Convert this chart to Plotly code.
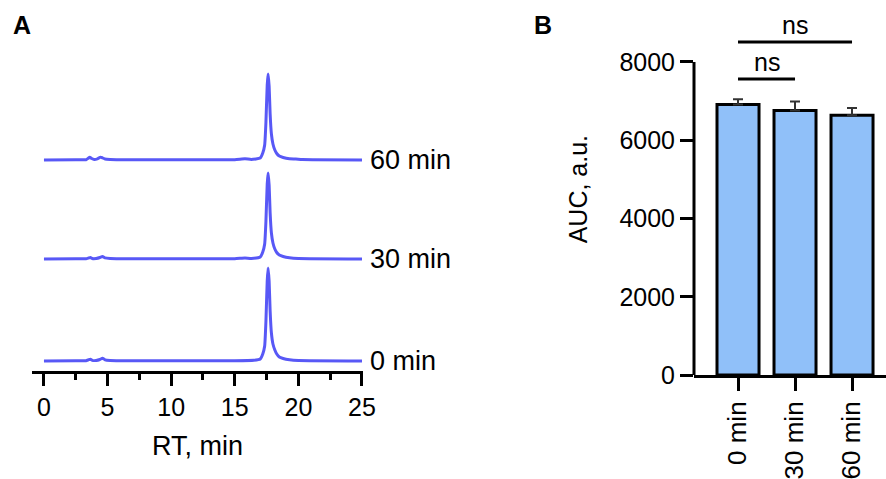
import plotly.graph_objects as go

# ---------------- Panel A data: chromatograms (RT in min, intensity a.u.) ----------------
rt_0min = [0, 2.5, 3.3, 3.5, 3.65, 3.8, 4.1, 4.4, 4.6, 4.8, 5.2, 6, 10, 15, 16.5,
           17.0, 17.2, 17.35, 17.45, 17.55, 17.62, 17.7, 17.78, 17.88, 18.0, 18.15,
           18.3, 18.5, 18.8, 19.3, 20.0, 25]
int_0min = [0, 0.3, 0.3, 1.2, 1.8, 0.6, 0.5, 1.5, 2.8, 1.2, 0.5, 0.3, 0.2, 0.3, 0.8,
            2, 7, 15, 40, 80, 93, 80, 50, 28, 17, 11,
            7, 4, 2.5, 1.2, 0.5, 0]

rt_30min = [0, 2.5, 3.3, 3.5, 3.65, 3.8, 4.1, 4.4, 4.6, 4.8, 5.2, 6, 10, 15, 15.8, 16.3,
            17.0, 17.2, 17.35, 17.45, 17.55, 17.62, 17.7, 17.78, 17.88, 18.0, 18.15,
            18.3, 18.5, 18.8, 19.3, 20.0, 25]
int_30min = [0, 0.3, 0.3, 1.0, 1.6, 0.5, 0.5, 1.5, 2.6, 1.1, 0.5, 0.3, 0.2, 0.3, 1.0, 0.6,
             2, 7, 15, 38, 75, 86, 74, 46, 26, 16, 10,
             6.5, 4, 2.5, 1.2, 0.5, 0]

rt_60min = [0, 2.5, 3.3, 3.45, 3.6, 3.75, 3.95, 4.2, 4.45, 4.6, 4.8, 5.2, 6, 10, 15, 15.8, 16.3,
            17.0, 17.2, 17.35, 17.45, 17.55, 17.62, 17.7, 17.78, 17.88, 18.0, 18.15,
            18.3, 18.5, 18.8, 19.3, 19.8, 20.3, 25]
int_60min = [0, 0.3, 0.3, 1.5, 2.8, 1.5, 0.6, 1.2, 2.8, 2.2, 1.0, 0.5, 0.3, 0.2, 0.3, 1.2, 0.6,
             2, 7, 15, 38, 75, 86, 74, 46, 26, 16, 10,
             6.5, 4, 2.5, 1.2, 1.0, 0.4, 0]

trace_labels = ["0 min", "30 min", "60 min"]
trace_offsets = [10, 112, 211]   # vertical stacking of the chromatograms

rt_ticks = [0, 5, 10, 15, 20, 25]

# ---------------- Panel B data: AUC ----------------
categories = ["0 min", "30 min", "60 min"]
auc_mean = [6915, 6760, 6640]
auc_err = [130, 230, 185]
auc_ticks = [0, 2000, 4000, 6000, 8000]
sig_pairs = [(0, 1, 7565, "ns"), (0, 2, 8511, "ns")]

FONT = "Liberation Sans, Arial, sans-serif"
LINE_BLUE = "#5858F6"
BAR_BLUE = "#90C0F9"

fig = go.Figure()

rts = [rt_0min, rt_30min, rt_60min]
ints = [int_0min, int_30min, int_60min]
for rt, it, off, lab in zip(rts, ints, trace_offsets, trace_labels):
    fig.add_trace(go.Scatter(
        x=rt, y=[v + off for v in it], mode="lines",
        line=dict(color=LINE_BLUE, width=3, shape="spline", smoothing=0.4),
        xaxis="x", yaxis="y", showlegend=False, hoverinfo="skip"))
    fig.add_annotation(x=rt[-1], y=off, xref="x", yref="y", text=lab,
                       showarrow=False, xanchor="left", yanchor="middle", xshift=6,
                       font=dict(family=FONT, size=27, color="black"))

fig.add_trace(go.Bar(
    x=categories, y=auc_mean, width=0.737,
    marker=dict(color=BAR_BLUE, line=dict(color="black", width=3)),
    error_y=dict(type="data", symmetric=False, array=auc_err, arrayminus=[0, 0, 0],
                 color="#333333", thickness=2, width=5),
    xaxis="x2", yaxis="y2", showlegend=False, hoverinfo="skip"))

# y-axis line of panel B (ends at the top tick)
fig.add_shape(type="line", xref="x2 domain", yref="y2", x0=0, x1=0,
              y0=auc_ticks[0], y1=auc_ticks[-1], line=dict(color="black", width=3))

for a, b, yv, txt in sig_pairs:
    fig.add_shape(type="line", xref="x2", yref="y2", x0=a, x1=b, y0=yv, y1=yv,
                  line=dict(color="black", width=3))
    fig.add_annotation(x=(a + b) / 2, y=yv, xref="x2", yref="y2", text=txt,
                       showarrow=False, yanchor="bottom", xanchor="center", yshift=1,
                       font=dict(family=FONT, size=25, color="black"))

fig.add_annotation(x=22 / 886, y=1 - 25 / 479, xref="paper", yref="paper", text="<b>A</b>",
                   showarrow=False, xanchor="center", yanchor="middle",
                   font=dict(family=FONT, size=25, color="black"))
fig.add_annotation(x=543 / 886, y=1 - 25 / 479, xref="paper", yref="paper", text="<b>B</b>",
                   showarrow=False, xanchor="center", yanchor="middle",
                   font=dict(family=FONT, size=25, color="black"))

fig.update_layout(
    width=886, height=479, margin=dict(l=0, r=0, t=0, b=0, autoexpand=False),
    paper_bgcolor="white", plot_bgcolor="white",
    font=dict(family=FONT, size=25, color="black"),
    xaxis=dict(domain=[32 / 886, 363 / 886], range=[-0.94, 25.08], anchor="y",
               automargin=False,
               showline=True, linecolor="black", linewidth=3,
               ticks="outside", ticklen=12, tickwidth=3, tickcolor="black",
               tickvals=rt_ticks, showgrid=False, zeroline=False,
               minor=dict(dtick=2.5, tick0=0, ticks="outside", ticklen=6, tickwidth=3,
                          tickcolor="black", showgrid=False),
               tickfont=dict(size=25),
               title=dict(text="RT, min", font=dict(size=27), standoff=17)),
    yaxis=dict(domain=[1 - 371 / 479, 1 - 60 / 479], range=[0, 311], anchor="x",
               automargin=False, visible=False),
    xaxis2=dict(domain=[694 / 886, 1.0], range=[-0.772, 2.596], anchor="y2",
                automargin=False,
                showline=True, linecolor="black", linewidth=3,
                ticks="outside", ticklen=13, tickwidth=3, tickcolor="black",
                tickangle=-90, tickfont=dict(size=26), showgrid=False, zeroline=False),
    yaxis2=dict(domain=[1 - 375 / 479, 1 - 3.3 / 479], range=[0, 9500], anchor="x2",
                automargin=False,
                showline=False, ticks="outside", ticklen=13, tickwidth=3, tickcolor="black",
                tickvals=auc_ticks, tickfont=dict(size=25), showgrid=False, zeroline=False,
                title=dict(text="AUC, a.u.", font=dict(size=25), standoff=24)),
)

fig.write_html("out.html")
